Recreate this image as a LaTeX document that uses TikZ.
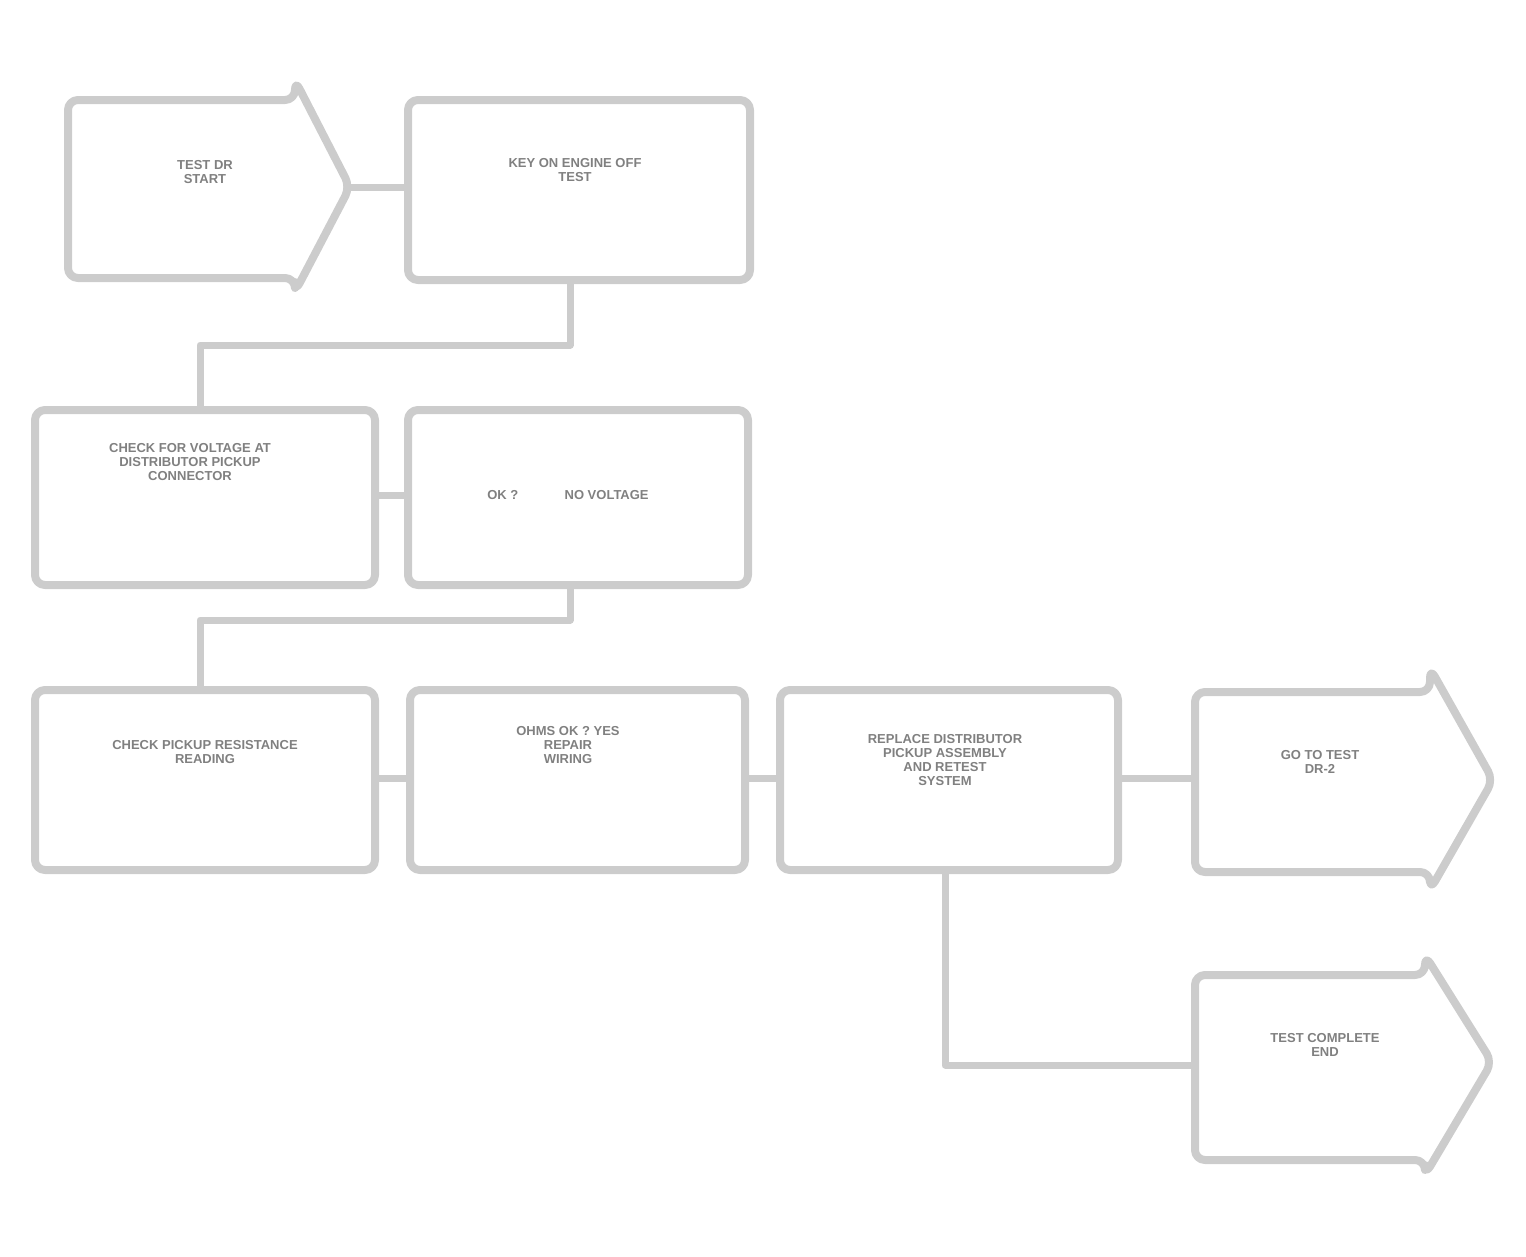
\documentclass[tikz,border=0pt]{standalone}
\usepackage{fontspec}
\setmainfont{Liberation Sans}
\usetikzlibrary{arrows.meta}
\begin{document}
\begin{tikzpicture}[x=1pt,y=-1pt,
  frame/.style={draw=black!20,line width=8pt,rounded corners=10pt,line join=round},
  conn/.style={draw=black!20,line width=7pt,line join=round},
  txt/.style={text=black!50,font=\bfseries\fontsize{13}{14}\selectfont,align=center,inner sep=0pt}]
\useasboundingbox (0,0) rectangle (1526,1256);
% row 1
\draw[frame] (68,100) -- (295,100) -- (295,80) -- (350,187) -- (295,292) -- (295,278) -- (68,278) -- cycle;
\coordinate (atip) at (350,187);
\node[txt] (ta) at (205,172) {TEST DR\\START};
\draw[frame] (408,100) rectangle (750,280);
\coordinate (bl) at (408,187); \coordinate (bb) at (570,280);
\node[txt] (tb) at (575,170) {KEY ON ENGINE OFF\\TEST};
\draw[conn] (atip) -- (bl);
% row 2
\draw[frame] (35,410) rectangle (375,585);
\coordinate (ct) at (200,410); \coordinate (cr) at (375,495);
\node[txt] (tc) at (190,462) {CHECK FOR VOLTAGE AT\\DISTRIBUTOR PICKUP\\CONNECTOR};
\draw[frame] (408,410) rectangle (748,585);
\coordinate (dl) at (408,495); \coordinate (db) at (570,585);
\node[txt] (td) at (568,495) {OK ?  \hspace{3em} NO VOLTAGE};
\draw[conn] (bb) -- (570,345) -- (200,345) -- (ct);
\draw[conn] (cr) -- (dl);
% row 3
\draw[frame] (35,690) rectangle (375,870);
\coordinate (et) at (200,690); \coordinate (er) at (375,778);
\node[txt] (te) at (205,752) {CHECK PICKUP RESISTANCE\\READING};
\draw[frame] (410,690) rectangle (745,870);
\coordinate (fl) at (410,778); \coordinate (fr) at (745,778);
\node[txt] (tf) at (568,745) {OHMS OK ?  YES\\REPAIR\\WIRING};
\draw[frame] (780,690) rectangle (1118,870);
\coordinate (gl) at (780,778); \coordinate (gr) at (1118,778); \coordinate (gb) at (945,870);
\node[txt] (tg) at (945,760) {REPLACE DISTRIBUTOR\\PICKUP ASSEMBLY\\AND RETEST\\SYSTEM};
\draw[frame] (1195,692) -- (1430,692) -- (1430,668) -- (1493,780) -- (1430,890) -- (1430,872) -- (1195,872) -- cycle;
\coordinate (hl) at (1195,778);
\node[txt] (th) at (1320,762) {GO TO  TEST\\DR-2};
\draw[conn] (db) -- (570,620) -- (200,620) -- (et);
\draw[conn] (er) -- (fl);
\draw[conn] (fr) -- (gl);
\draw[conn] (gr) -- (hl);
% bottom branch
\draw[frame] (1195,975) -- (1425,975) -- (1425,955) -- (1492,1062) -- (1425,1175) -- (1425,1160) -- (1195,1160) -- cycle;
\coordinate (il) at (1195,1065);
\node[txt] (ti) at (1325,1045) {TEST COMPLETE\\END};
\draw[conn] (gb) -- (945,1065) -- (il);
\end{tikzpicture}
\end{document}
